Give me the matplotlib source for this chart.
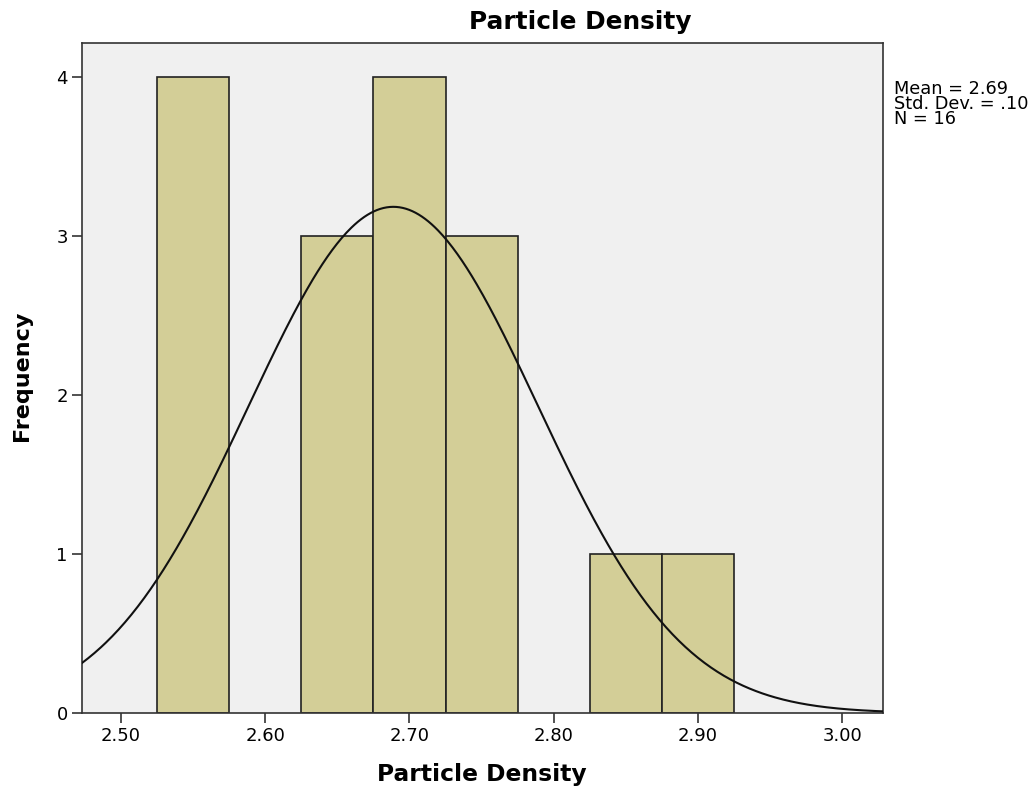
import numpy as np
import matplotlib
matplotlib.use("Agg")
import matplotlib.pyplot as plt

bin_edges = [2.525, 2.575, 2.625, 2.675, 2.725, 2.775, 2.825, 2.875, 2.925]
counts = [4, 0, 3, 4, 3, 0, 1, 1]
mean = 2.6888
std = 0.1003
n = 16
x_ticks = [2.50, 2.60, 2.70, 2.80, 2.90, 3.00]
y_ticks = [0, 1, 2, 3, 4]

plt.rcParams['font.family'] = ['DejaVu Sans']

fig = plt.figure(figsize=(10.35, 7.9), dpi=100)
ax = fig.add_axes([81.7/1035, 77/790, (882.7-81.7)/1035, (713-43.3)/790])
ax.set_facecolor('#F0F0F0')

lefts = bin_edges[:-1]
widths = np.diff(bin_edges)
for l, w, c in zip(lefts, widths, counts):
    if c > 0:
        ax.bar(l, c, width=w, align='edge', color='#D3CE97', edgecolor='#222222', linewidth=1.2, zorder=2)

bw = bin_edges[1] - bin_edges[0]
xs = np.linspace(2.4728, 3.028, 500)
ys = n * bw / (std * np.sqrt(2 * np.pi)) * np.exp(-0.5 * ((xs - mean) / std) ** 2)
ax.plot(xs, ys, color='#111111', linewidth=1.5, zorder=3)

ax.set_xlim(2.4728, 3.028)
ax.set_ylim(0, 4.21)
ax.set_xticks(x_ticks)
ax.set_xticklabels([f"{t:.2f}" for t in x_ticks], fontsize=13)
ax.set_yticks(y_ticks)
ax.set_yticklabels([str(t) for t in y_ticks], fontsize=13)
ax.tick_params(direction='out', length=7, width=1.2, color='#333333', pad=3)
for s in ax.spines.values():
    s.set_linewidth(1.2)
    s.set_color('#333333')

fig.text(482/1035, 1 - 775/790, 'Particle Density', fontsize=16.8, fontweight='bold', ha='center', va='center')
fig.text(22/1035, 1 - 376/790, 'Frequency', fontsize=16, fontweight='bold', ha='center', va='center', rotation=90)
fig.text(580/1035, 1 - 22/790, 'Particle Density', fontsize=17.8, fontweight='bold', ha='center', va='center')
fig.text(894/1035, 1 - 80/790, f"Mean = 2.69\nStd. Dev. = .10\nN = {n}", fontsize=12.8,
         ha='left', va='top', linespacing=0.8)

fig.savefig('out.png', dpi=100)
